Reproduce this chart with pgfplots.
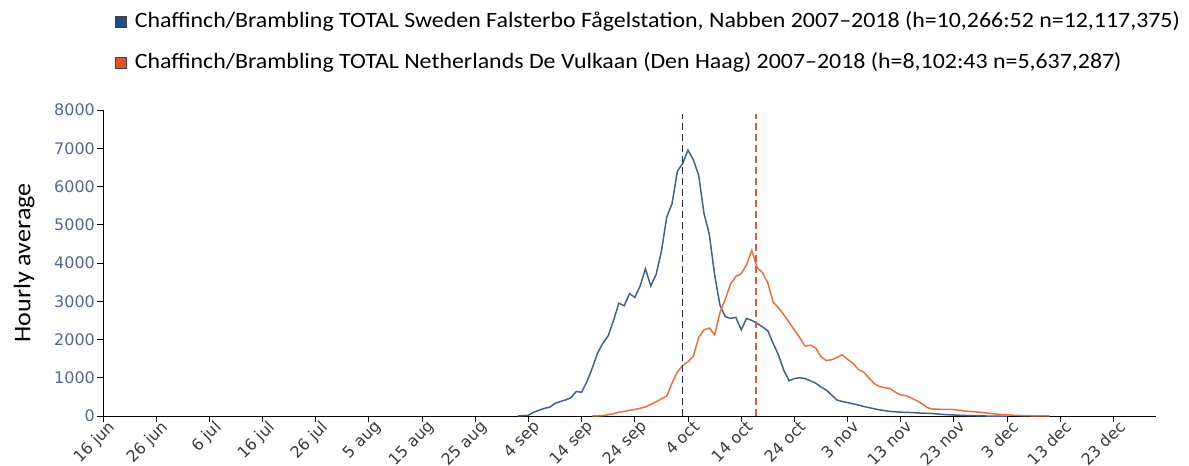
\documentclass[border=0pt]{standalone}
\usepackage{fontspec}
\setmainfont{Carlito}
\newfontfamily\legfont[FakeStretch=1.09]{Carlito}
\newfontfamily\tickfont{DejaVu Sans}
\usepackage{pgfplots}
\pgfplotsset{compat=1.18}
\definecolor{swblue}{HTML}{42618C}
\definecolor{nlorange}{HTML}{E8703F}
\definecolor{legblue}{HTML}{1F4E8C}
\definecolor{legorange}{HTML}{E0522A}
\definecolor{dashblue}{HTML}{1F2D45}
\definecolor{dashorange}{HTML}{D0603F}
\definecolor{ytickc}{HTML}{55678A}
\definecolor{xtickc}{HTML}{3A3A3A}
\begin{document}
\begin{tikzpicture}
\useasboundingbox (-103bp,-50bp) rectangle (1086bp,416bp);
\begin{axis}[
  at={(0,0)}, anchor=south west,
  scale only axis, width=1053bp, height=306bp,
  xmin=0, xmax=198, ymin=0, ymax=8000,
  axis x line=bottom, axis y line=left,
  axis line style={-, black, line width=0.9bp},
  tick align=outside,
  major tick length=6bp,
  tick style={black, line width=0.9bp},
  xtick={0,10,...,190},
  xticklabels={16 jun, 26 jun, 6 jul, 16 jul, 26 jul, 5 aug, 15 aug, 25 aug, 4 sep, 14 sep, 24 sep, 4 oct, 14 oct, 24 oct, 3 nov, 13 nov, 23 nov, 3 dec, 13 dec, 23 dec},
  ytick={0,1000,...,8000},
  yticklabels={0,1000,2000,3000,4000,5000,6000,7000,8000},
  yticklabel style={font=\tickfont\fontsize{16}{19}\selectfont, text=ytickc, inner sep=2bp},
  xticklabel style={font=\tickfont\fontsize{16}{19}\selectfont, text=xtickc, rotate=45, anchor=north east, inner sep=0bp, xshift=5bp, yshift=-1bp},
  ylabel={Hourly average},
  ylabel style={font=\fontsize{24}{28}\selectfont\legfont, at={(axis description cs:-0.075,0.5)}, anchor=center},
  legend style={at={(axis description cs:0.0114,1.3235)}, anchor=north west, draw=none, fill=none, inner sep=0pt, row sep=20.5bp, font=\fontsize{22}{26}\selectfont\legfont, nodes={inner xsep=8bp, inner ysep=0pt, text height=16bp, text depth=5bp}},
  legend cell align=left,
]
\addplot[swblue, line width=1.5bp, legend image code/.code={\draw[draw=black!75, line width=0.6bp, fill=legblue] (0bp,-5.5bp) rectangle (11bp,5.5bp);}] coordinates {
(78,0)(80,20)(81,100)(82,150)(83,200)(84,230)(85,330)(86,380)(87,420)(88,480)(89,640)(90,620)
(91,900)(92,1250)(93,1650)(94,1900)(95,2100)(96,2500)(97,2950)(98,2880)(99,3200)(100,3100)
(101,3400)(102,3850)(103,3400)(104,3700)(105,4300)(106,5200)(107,5550)(108,6400)(109,6600)(110,6950)
(111,6700)(112,6300)(113,5300)(114,4750)(115,3700)(116,2900)(117,2600)(118,2550)(119,2580)(120,2250)
(121,2550)(122,2500)(123,2420)(124,2330)(125,2230)(126,1900)(127,1600)(128,1200)(129,920)(130,980)
(131,1000)(132,980)(133,920)(134,860)(135,760)(136,680)(137,550)(138,420)(139,380)(140,350)
(141,320)(142,290)(143,250)(144,220)(145,190)(146,160)(147,140)(148,120)(150,100)(152,90)
(154,75)(156,65)(158,40)(160,25)(163,10)(166,0)(170,0)
};
\addlegendentry{Chaffinch/Brambling TOTAL Sweden Falsterbo Fågelstation, Nabben 2007–2018 (h=10,266:52 n=12,117,375)}
\addplot[nlorange, line width=1.5bp, legend image code/.code={\draw[draw=black!75, line width=0.6bp, fill=legorange] (0bp,-5.5bp) rectangle (11bp,5.5bp);}] coordinates {
(92,0)(94,10)(96,60)(97,100)(98,120)(99,150)(100,170)(101,200)(102,240)(103,300)(104,370)
(105,450)(106,520)(107,860)(108,1150)(109,1320)(110,1420)(111,1560)(112,2050)(113,2250)(114,2300)
(115,2120)(116,2700)(117,3050)(118,3450)(119,3650)(120,3720)(121,3950)(122,4330)(123,3880)(124,3750)
(125,3480)(126,2980)(127,2830)(128,2650)(129,2450)(130,2250)(131,2050)(132,1830)(133,1850)(134,1780)
(135,1550)(136,1450)(137,1470)(138,1530)(139,1600)(140,1480)(141,1380)(142,1220)(143,1150)(144,1000)
(145,850)(146,770)(147,740)(148,720)(149,620)(150,550)(151,530)(152,470)(153,400)(154,320)
(155,220)(156,180)(158,175)(160,170)(162,130)(164,110)(166,80)(168,50)(170,30)(172,15)(175,5)(178,0)
};
\addlegendentry{Chaffinch/Brambling TOTAL Netherlands De Vulkaan (Den Haag) 2007–2018 (h=8,102:43 n=5,637,287)}
\addplot[dashblue, line width=1.5bp, dash pattern=on 7bp off 4bp, forget plot] coordinates {(109,0)(109,7900)};
\addplot[dashorange, line width=1.3bp, dash pattern=on 7bp off 4bp, forget plot] coordinates {(122.8,0)(122.8,7900)};
\end{axis}
\end{tikzpicture}
\end{document}
